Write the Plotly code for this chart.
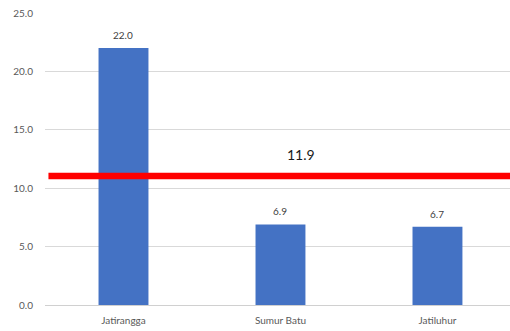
import plotly.graph_objects as go

categories = ["Jatirangga", "Sumur Batu", "Jatiluhur"]
values = [22.0, 6.9, 6.7]
bar_labels = ["22.0", "6.9", "6.7"]
avg_line_y = 11.05
avg_label = "11.9"
y_ticks = [0, 5, 10, 15, 20, 25]
y_tick_text = ["0.0", "5.0", "10.0", "15.0", "20.0", "25.0"]

FONT = "Lato, 'Open Sans', sans-serif"

fig = go.Figure()
fig.add_trace(go.Bar(
    x=list(range(len(categories))), y=values,
    marker=dict(color="#4472C4", line=dict(width=0)),
    width=0.318, hoverinfo="skip",
))

for i, (v, t) in enumerate(zip(values, bar_labels)):
    fig.add_annotation(x=i, y=v, text=t, showarrow=False, yshift=13,
                       xanchor="center", yanchor="middle",
                       font=dict(size=10, color="#404040", family=FONT))

fig.add_shape(type="line", xref="x", yref="y", x0=-0.478, x1=2.6,
              y0=avg_line_y, y1=avg_line_y,
              line=dict(color="#FF0000", width=6.5))
fig.add_annotation(x=1.13, y=avg_line_y, text=avg_label, showarrow=False,
                   yshift=21, xanchor="center", yanchor="middle",
                   font=dict(size=14, color="#1a1a1a", family=FONT))

fig.update_layout(
    width=510, height=331,
    margin=dict(l=45, r=0, t=13, b=26),
    paper_bgcolor="white", plot_bgcolor="white",
    showlegend=False,
    font=dict(family=FONT, size=10, color="#595959"),
    xaxis=dict(range=[-0.5, 2.462], tickmode="array",
               tickvals=list(range(len(categories))), ticktext=categories,
               showgrid=False, zeroline=False, showline=False,
               ticks="", ticklabelstandoff=8,
               tickfont=dict(size=10, color="#595959", family=FONT)),
    yaxis=dict(range=[0, 25], tickmode="array", tickvals=y_ticks,
               ticktext=y_tick_text, showgrid=True, gridcolor="#D9D9D9",
               gridwidth=1, zeroline=True, zerolinecolor="#D0D0D0",
               zerolinewidth=1, showline=False, ticks="",
               ticklabelstandoff=11,
               tickfont=dict(size=10, color="#595959", family=FONT)),
)

fig.write_html("out.html")
